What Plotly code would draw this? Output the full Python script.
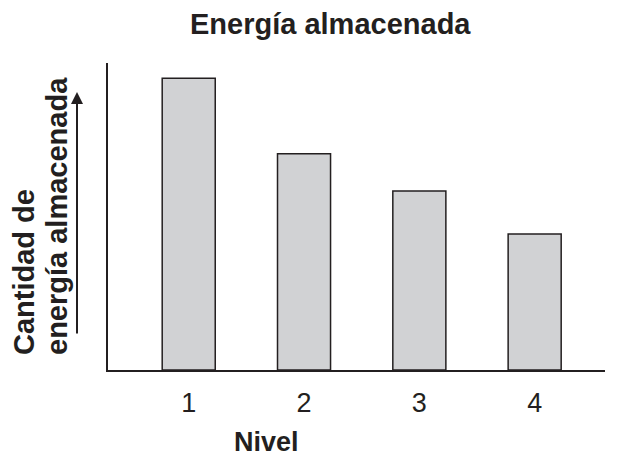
import plotly.graph_objects as go

niveles = [1, 2, 3, 4]
tick_labels = ["1", "2", "3", "4"]
energia = [9.5, 7.04, 5.83, 4.43]

FONT = "Liberation Sans, Arial, Helvetica, sans-serif"
INK = "#231f20"

# the page body has an 8px default margin, so the figure is 8px smaller
W, H = 613, 454
L, R, T, B = 100, 16, 55, 92
PW, PH = W - L - R, H - T - B


def px(xp):
    return (xp - 8 - L) / PW


def py(yp):
    return (H - B - (yp - 8)) / PH


fig = go.Figure(go.Bar(
    x=niveles, y=energia, width=0.46,
    marker=dict(color="#d1d2d4", line=dict(color=INK, width=1.5)),
))

fig.update_layout(
    width=W, height=H,
    margin=dict(l=L, r=R, t=T, b=B),
    paper_bgcolor="white", plot_bgcolor="white",
    showlegend=False,
    font=dict(family=FONT, color=INK),
    xaxis=dict(range=[0.3, 4.61], tickvals=niveles, ticktext=tick_labels,
               showgrid=False, zeroline=False, showline=True, linecolor=INK,
               linewidth=2, ticks="", ticklabelstandoff=8,
               tickfont=dict(size=27, family=FONT, color=INK)),
    yaxis=dict(range=[0, 10], showgrid=False, zeroline=False, showline=True,
               linecolor=INK, linewidth=2, showticklabels=False, ticks=""),
)

fig.add_annotation(text="<b>Energía almacenada</b>", xref="paper", yref="paper",
                   x=px(330), y=py(24), showarrow=False,
                   xanchor="center", yanchor="middle", font=dict(size=29, family=FONT))
fig.add_annotation(text="<b>Nivel</b>", xref="paper", yref="paper",
                   x=px(266), y=py(442), showarrow=False,
                   xanchor="center", yanchor="middle", font=dict(size=27, family=FONT))
fig.add_annotation(text="<b>Cantidad de</b>", xref="paper", yref="paper",
                   x=px(24), y=py(357), showarrow=False, textangle=-90,
                   xanchor="center", yanchor="bottom", font=dict(size=29, family=FONT))
fig.add_annotation(text="<b>energía almacenada</b>", xref="paper", yref="paper",
                   x=px(57), y=py(357), showarrow=False, textangle=-90,
                   xanchor="center", yanchor="bottom", font=dict(size=29, family=FONT))
fig.add_annotation(text="", xref="paper", yref="paper",
                   x=px(77), y=py(92),
                   ax=0, ay=243, showarrow=True, arrowhead=2, arrowsize=1.2,
                   arrowwidth=2, arrowcolor=INK)

fig.write_html("out.html")
